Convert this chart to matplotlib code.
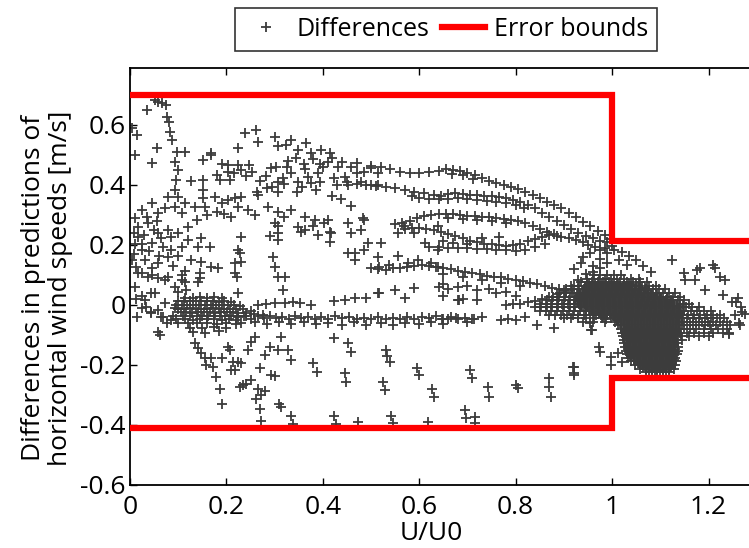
import numpy as np
import matplotlib
matplotlib.use("Agg")
import matplotlib.pyplot as plt

plt.rcParams["font.family"] = ["Open Sans", "DejaVu Sans"]
plt.rcParams["axes.unicode_minus"] = False

# error bounds
bound_x = [0, 1, 1, 1.284]
upper_bound = [0.70, 0.70, 0.212, 0.212]
lower_bound = [-0.41, -0.41, -0.242, -0.242]

# differences
left_streak = [
    (0.036, 0.650), (0.059, 0.678), (0.074, 0.667), (0.066, 0.672), (0.077, 0.628),
    (0.080, 0.610), (0.084, 0.578), (0.087, 0.550), (0.098, 0.510), (0.094, 0.478),
    (0.100, 0.450), (0.096, 0.417), (0.094, 0.383), (0.100, 0.360), (0.015, 0.567),
    (0.011, 0.500), (0.056, 0.523), (0.046, 0.473), (0.115, 0.510), (0.167, 0.500),
    (0.005, 0.590), (0.052, 0.682),
]

upper_left = [
    (0.238, 0.572), (0.262, 0.583), (0.300, 0.561), (0.266, 0.544), (0.224, 0.522),
    (0.335, 0.550), (0.366, 0.539), (0.307, 0.530), (0.324, 0.533), (0.349, 0.517),
    (0.376, 0.508), (0.397, 0.517), (0.414, 0.506), (0.169, 0.506), (0.152, 0.483),
    (0.127, 0.413), (0.152, 0.417), (0.152, 0.383), (0.180, 0.433), (0.204, 0.467),
    (0.204, 0.445), (0.208, 0.417), (0.186, 0.417), (0.224, 0.467), (0.246, 0.467),
    (0.231, 0.450), (0.253, 0.444), (0.263, 0.378), (0.266, 0.368), (0.285, 0.389),
    (0.303, 0.461), (0.306, 0.411), (0.326, 0.461), (0.306, 0.378), (0.346, 0.378),
    (0.349, 0.411), (0.370, 0.428), (0.376, 0.406), (0.391, 0.439), (0.401, 0.461),
    (0.411, 0.478), (0.432, 0.461), (0.424, 0.422), (0.445, 0.428), (0.459, 0.461),
    (0.486, 0.444), (0.500, 0.456), (0.514, 0.439), (0.452, 0.400), (0.479, 0.411),
    (0.500, 0.400), (0.514, 0.400), (0.386, 0.385), (0.418, 0.363), (0.438, 0.352),
    (0.459, 0.330), (0.486, 0.285), (0.293, 0.458), (0.328, 0.480), (0.345, 0.490),
    (0.360, 0.470), (0.380, 0.488), (0.395, 0.470), (0.420, 0.490), (0.440, 0.478),
    (0.470, 0.475), (0.282, 0.430), (0.318, 0.425), (0.335, 0.440), (0.362, 0.452),
    (0.190, 0.470), (0.215, 0.440), (0.240, 0.430), (0.270, 0.415), (0.295, 0.395),
    (0.320, 0.405), (0.356, 0.395), (0.395, 0.410), (0.430, 0.400), (0.470, 0.440),
]

left_mid = [
    (0.079, 0.361), (0.045, 0.339), (0.024, 0.317), (0.059, 0.306), (0.072, 0.322),
    (0.093, 0.328), (0.114, 0.339), (0.107, 0.306), (0.134, 0.328), (0.152, 0.356),
    (0.155, 0.328), (0.176, 0.361), (0.190, 0.339), (0.180, 0.311), (0.203, 0.350),
    (0.217, 0.356), (0.231, 0.361), (0.210, 0.294), (0.195, 0.305), (0.224, 0.328),
    (0.245, 0.317), (0.259, 0.300), (0.286, 0.328), (0.306, 0.311), (0.320, 0.294),
    (0.334, 0.317), (0.300, 0.272), (0.349, 0.261), (0.362, 0.294), (0.383, 0.283),
    (0.403, 0.272), (0.417, 0.239), (0.362, 0.250), (0.390, 0.233), (0.017, 0.261),
    (0.038, 0.272), (0.059, 0.239), (0.079, 0.250), (0.017, 0.228), (0.045, 0.206),
    (0.069, 0.194), (0.086, 0.228), (0.100, 0.239), (0.024, 0.183), (0.013, 0.128),
    (0.031, 0.150), (0.059, 0.139), (0.079, 0.161), (0.107, 0.194), (0.121, 0.217),
    (0.141, 0.194), (0.148, 0.222), (0.165, 0.194), (0.127, 0.150), (0.148, 0.144),
    (0.169, 0.128), (0.183, 0.124), (0.231, 0.228), (0.224, 0.183), (0.231, 0.144),
    (0.217, 0.106), (0.306, 0.239), (0.306, 0.218), (0.296, 0.161), (0.300, 0.128),
    (0.306, 0.094), (0.410, 0.283), (0.414, 0.244), (0.414, 0.211), (0.355, 0.244),
    (0.380, 0.262), (0.452, 0.172), (0.466, 0.150), (0.486, 0.183), (0.514, 0.161),
    (0.017, 0.106), (0.038, 0.095), (0.058, 0.089), (0.079, 0.095), (0.107, 0.084),
    (0.141, 0.078), (0.093, 0.061), (0.100, 0.045), (0.117, 0.050), (0.010, 0.205),
    (0.005, 0.150), (0.030, 0.235), (0.120, 0.260), (0.138, 0.285), (0.160, 0.300),
    (0.317, 0.050), (0.321, 0.095), (0.224, 0.039), (0.221, 0.095), (0.228, 0.173),
    (0.217, 0.140), (0.290, 0.229), (0.307, 0.263), (0.452, 0.274), (0.459, 0.240),
    (0.480, 0.251), (0.483, 0.290), (0.494, 0.207), (0.466, 0.173), (0.521, 0.207),
    (0.517, 0.128), (0.538, 0.134), (0.556, 0.162), (0.556, 0.240), (0.569, 0.263),
    (0.590, 0.240), (0.611, 0.207), (0.576, 0.140), (0.597, 0.151), (0.625, 0.140),
    (0.639, 0.128), (0.639, 0.263), (0.639, 0.184),
    (0.010, 0.290), (0.035, 0.295), (0.055, 0.280), (0.008, 0.240), (0.050, 0.250),
    (0.065, 0.225), (0.025, 0.205), (0.040, 0.180), (0.060, 0.165), (0.085, 0.185),
    (0.100, 0.165), (0.008, 0.170), (0.045, 0.125), (0.090, 0.130), (0.115, 0.115),
]

arc_bands = [
    # top band
    (0.500, 0.462), (0.520, 0.460), (0.540, 0.452), (0.560, 0.445), (0.580, 0.440),
    (0.600, 0.440), (0.620, 0.442), (0.640, 0.446), (0.655, 0.452), (0.670, 0.450),
    (0.685, 0.448), (0.700, 0.440), (0.715, 0.432), (0.730, 0.422), (0.745, 0.414),
    (0.760, 0.408), (0.775, 0.400), (0.790, 0.394), (0.805, 0.386), (0.820, 0.378),
    (0.835, 0.366), (0.850, 0.356), (0.865, 0.345), (0.880, 0.335), (0.895, 0.322),
    (0.910, 0.308), (0.925, 0.292), (0.940, 0.278), (0.955, 0.262), (0.970, 0.248),
    (0.985, 0.232), (0.998, 0.220), (0.668, 0.438), (0.690, 0.432), (0.712, 0.420),
    # second band
    (0.450, 0.410), (0.470, 0.405), (0.490, 0.400), (0.510, 0.398), (0.530, 0.394),
    (0.550, 0.390), (0.570, 0.385), (0.590, 0.378), (0.610, 0.372), (0.630, 0.368),
    (0.645, 0.365), (0.660, 0.370), (0.675, 0.372), (0.690, 0.370), (0.705, 0.368),
    (0.720, 0.366), (0.735, 0.364), (0.750, 0.362), (0.765, 0.360), (0.780, 0.356),
    (0.795, 0.350), (0.810, 0.344), (0.825, 0.335), (0.840, 0.322), (0.855, 0.308),
    (0.870, 0.294), (0.885, 0.280), (0.900, 0.266), (0.915, 0.252), (0.930, 0.240),
    (0.945, 0.230), (0.960, 0.222), (0.975, 0.215), (0.990, 0.210),
    (0.585, 0.362), (0.600, 0.358), (0.620, 0.355), (0.640, 0.352), (0.660, 0.355),
    (0.680, 0.356), (0.700, 0.354), (0.720, 0.350), (0.740, 0.348), (0.760, 0.345),
    (0.780, 0.340), (0.800, 0.332), (0.818, 0.322),
    # third band
    (0.550, 0.270), (0.565, 0.275), (0.580, 0.280), (0.595, 0.290), (0.610, 0.296),
    (0.625, 0.300), (0.640, 0.303), (0.655, 0.305), (0.670, 0.304), (0.685, 0.300),
    (0.700, 0.298), (0.715, 0.296), (0.730, 0.295), (0.745, 0.293), (0.760, 0.290),
    (0.775, 0.288), (0.790, 0.285), (0.805, 0.280), (0.820, 0.272), (0.835, 0.262),
    (0.850, 0.252), (0.865, 0.244), (0.880, 0.236), (0.895, 0.228), (0.910, 0.222),
    (0.925, 0.216), (0.940, 0.210), (0.660, 0.290), (0.690, 0.286), (0.720, 0.284),
    (0.750, 0.280), (0.780, 0.275),
    # loop
    (0.570, 0.255), (0.585, 0.258), (0.600, 0.258), (0.615, 0.255), (0.630, 0.250),
    (0.645, 0.245), (0.660, 0.238), (0.675, 0.230), (0.690, 0.222), (0.705, 0.215),
    (0.720, 0.210), (0.735, 0.205), (0.750, 0.202), (0.765, 0.200), (0.780, 0.198),
    (0.795, 0.200), (0.810, 0.205), (0.825, 0.212), (0.840, 0.220), (0.855, 0.228),
    (0.870, 0.232), (0.885, 0.230), (0.620, 0.195), (0.640, 0.192), (0.660, 0.190),
    (0.680, 0.190), (0.700, 0.190), (0.720, 0.188), (0.740, 0.186), (0.760, 0.185),
    (0.780, 0.182), (0.800, 0.180), (0.820, 0.185), (0.840, 0.195), (0.860, 0.205),
    (0.650, 0.212), (0.670, 0.208), (0.700, 0.205), (0.730, 0.222), (0.765, 0.226),
    # lower arc into the blob
    (0.500, 0.125), (0.515, 0.120), (0.530, 0.118), (0.545, 0.122), (0.560, 0.125),
    (0.575, 0.128), (0.590, 0.130), (0.605, 0.132), (0.620, 0.130), (0.635, 0.128),
    (0.650, 0.125), (0.665, 0.120), (0.680, 0.115), (0.695, 0.110), (0.710, 0.106),
    (0.725, 0.102), (0.740, 0.098), (0.755, 0.095), (0.770, 0.092), (0.785, 0.088),
    (0.800, 0.084), (0.815, 0.080), (0.830, 0.075), (0.845, 0.070), (0.860, 0.064),
    (0.875, 0.058), (0.890, 0.052), (0.905, 0.046), (0.920, 0.040), (0.650, 0.105),
    (0.690, 0.095), (0.730, 0.085), (0.770, 0.075), (0.810, 0.062),
    # rising band
    (0.780, 0.000), (0.795, 0.002), (0.810, 0.005), (0.825, 0.010), (0.840, 0.015),
    (0.855, 0.020), (0.870, 0.028), (0.885, 0.038), (0.900, 0.050), (0.915, 0.065),
    (0.930, 0.085), (0.945, 0.105), (0.960, 0.130), (0.975, 0.155), (0.990, 0.172),
    (1.005, 0.182), (1.020, 0.178), (1.035, 0.165), (1.050, 0.150), (1.065, 0.130),
    (1.080, 0.110), (0.985, 0.190), (1.000, 0.198), (1.015, 0.150), (1.030, 0.135),
    (0.650, 0.070), (0.660, 0.055), (0.680, 0.060), (0.700, 0.065), (0.720, 0.050),
    (0.745, 0.052), (0.760, 0.040), (0.780, 0.045), (0.800, 0.030), (0.690, 0.020),
    (0.720, 0.017), (0.650, 0.030), (0.683, 0.017),
    (0.940, 0.160), (0.955, 0.175), (0.965, 0.195), (0.950, 0.200), (0.975, 0.185),
    (0.935, 0.140), (0.920, 0.120), (0.960, 0.110), (0.975, 0.125), (0.990, 0.140),
]

low_band = [
    (0.225, -0.040), (0.240, -0.035), (0.252, -0.045), (0.265, -0.038), (0.278, -0.042),
    (0.290, -0.036), (0.303, -0.044), (0.316, -0.040), (0.330, -0.046), (0.342, -0.038),
    (0.355, -0.044), (0.370, -0.040), (0.383, -0.047), (0.396, -0.041), (0.410, -0.045),
    (0.425, -0.038), (0.440, -0.044), (0.455, -0.040), (0.470, -0.046), (0.485, -0.042),
    (0.500, -0.047), (0.515, -0.040), (0.530, -0.045), (0.545, -0.042), (0.560, -0.048),
    (0.575, -0.041), (0.590, -0.046), (0.605, -0.040), (0.620, -0.044), (0.635, -0.038),
    (0.650, -0.045), (0.665, -0.040), (0.680, -0.046), (0.695, -0.042), (0.710, -0.047),
    (0.730, -0.040), (0.770, -0.050), (0.785, -0.046), (0.800, -0.050), (0.820, -0.040),
    (0.230, -0.060), (0.260, -0.058), (0.285, -0.062), (0.310, -0.057), (0.335, -0.063),
    (0.360, -0.058), (0.385, -0.064), (0.410, -0.060), (0.440, -0.065), (0.465, -0.058),
    (0.490, -0.066), (0.520, -0.060), (0.545, -0.068), (0.570, -0.060), (0.600, -0.064),
    (0.625, -0.058), (0.650, -0.062), (0.700, -0.058), (0.845, -0.067), (0.880, -0.078),
    (0.956, -0.084), (0.987, -0.045), (0.648, -0.045), (0.660, -0.048), (0.676, -0.044),
    (0.714, -0.046), (0.300, 0.006), (0.322, 0.006), (0.338, 0.010), (0.352, 0.006),
    (0.376, 0.000), (0.424, 0.013), (0.445, 0.017), (0.466, 0.022), (0.490, 0.025),
    (0.514, 0.040), (0.549, 0.050), (0.590, 0.056), (0.640, 0.061), (0.516, 0.039),
    (0.571, 0.022), (0.681, 0.017), (0.265, 0.000), (0.283, 0.002),
]

left_cluster = [
    (0.115, 0.025), (0.130, 0.025), (0.145, 0.027), (0.160, 0.024), (0.175, 0.026), (0.190, 0.022),
    (0.100, 0.012), (0.112, 0.012), (0.124, 0.014), (0.136, 0.012), (0.148, 0.013), (0.160, 0.012),
    (0.172, 0.014), (0.184, 0.011), (0.196, 0.012), (0.210, 0.010),
    (0.095, 0.000), (0.107, 0.000), (0.119, 0.001), (0.131, 0.000), (0.143, -0.001), (0.155, 0.000),
    (0.167, 0.001), (0.179, 0.000), (0.191, -0.001), (0.203, 0.000), (0.215, 0.000), (0.228, -0.002),
    (0.100, -0.012), (0.112, -0.012), (0.124, -0.011), (0.136, -0.012), (0.148, -0.013), (0.160, -0.012),
    (0.172, -0.011), (0.184, -0.012), (0.196, -0.013), (0.208, -0.012), (0.220, -0.012), (0.235, -0.014),
    (0.250, -0.020),
    (0.105, -0.024), (0.117, -0.024), (0.129, -0.025), (0.141, -0.024), (0.153, -0.023), (0.165, -0.024),
    (0.177, -0.025), (0.189, -0.024), (0.201, -0.024), (0.213, -0.023), (0.225, -0.025), (0.240, -0.026),
    (0.258, -0.030), (0.275, -0.032),
    (0.090, -0.036), (0.110, -0.036), (0.125, -0.037), (0.138, -0.036), (0.150, -0.035), (0.162, -0.036),
    (0.174, -0.037), (0.186, -0.036), (0.198, -0.036), (0.210, -0.035), (0.222, -0.037), (0.236, -0.036),
    (0.095, -0.048), (0.115, -0.048), (0.130, -0.049), (0.145, -0.048), (0.160, -0.047), (0.175, -0.048),
    (0.190, -0.049), (0.205, -0.048), (0.220, -0.050), (0.120, -0.060), (0.140, -0.061), (0.160, -0.060),
    (0.180, -0.062), (0.200, -0.060), (0.220, -0.063), (0.125, -0.075), (0.150, -0.076), (0.175, -0.074),
    (0.200, -0.078), (0.130, -0.090), (0.155, -0.092), (0.185, -0.088),
    (0.024, 0.106), (0.045, 0.100), (0.072, 0.083), (0.107, 0.100), (0.114, 0.078), (0.145, 0.106),
    (0.145, 0.090), (0.031, 0.017), (0.051, 0.039), (0.034, -0.006), (0.058, -0.017), (0.044, -0.028),
    (0.065, -0.039), (0.058, -0.089), (0.062, -0.100), (0.072, 0.006), (0.093, -0.011), (0.086, -0.050),
    (0.100, -0.061), (0.044, 0.040), (0.024, 0.030), (0.024, -0.010), (0.044, -0.022), (0.069, -0.039),
    (0.076, -0.061), (0.010, 0.060), (0.012, 0.020), (0.015, -0.040),
]

low_scatter = [
    (0.134, -0.128), (0.141, -0.144), (0.148, -0.161), (0.155, -0.178), (0.158, -0.200),
    (0.169, -0.178), (0.190, -0.178), (0.172, -0.206), (0.204, -0.139), (0.207, -0.150),
    (0.214, -0.189), (0.217, -0.217), (0.224, -0.189), (0.231, -0.192), (0.245, -0.150),
    (0.252, -0.122), (0.259, -0.106), (0.269, -0.211), (0.279, -0.167), (0.290, -0.139),
    (0.293, -0.233), (0.300, -0.236), (0.307, -0.150), (0.314, -0.106), (0.328, -0.150),
    (0.335, -0.183), (0.380, -0.194), (0.387, -0.222), (0.424, -0.111), (0.452, -0.128),
    (0.459, -0.156), (0.445, -0.228), (0.448, -0.256), (0.179, -0.240), (0.186, -0.280),
    (0.190, -0.330), (0.210, -0.218), (0.228, -0.274), (0.235, -0.268), (0.240, -0.262),
    (0.252, -0.251), (0.266, -0.280), (0.262, -0.313), (0.272, -0.300), (0.279, -0.285),
    (0.269, -0.346), (0.272, -0.385), (0.310, -0.330), (0.314, -0.340), (0.335, -0.369),
    (0.338, -0.397), (0.424, -0.369), (0.427, -0.397), (0.473, -0.391), (0.531, -0.150),
    (0.533, -0.170), (0.540, -0.189), (0.525, -0.257), (0.529, -0.283), (0.542, -0.369),
    (0.546, -0.394), (0.595, -0.211), (0.599, -0.233), (0.627, -0.281), (0.630, -0.306),
    (0.619, -0.389), (0.695, -0.350), (0.698, -0.378), (0.716, -0.372), (0.716, -0.394),
    (0.706, -0.217), (0.709, -0.244), (0.743, -0.272), (0.745, -0.306), (0.801, -0.267),
    (0.805, -0.275), (0.870, -0.244), (0.870, -0.272), (0.874, -0.306), (0.918, -0.206),
    (0.921, -0.233), (0.973, -0.140), (0.975, -0.156), (0.997, -0.173), (0.998, -0.200),
    (1.013, -0.161), (1.020, -0.190), (0.920, -0.205), (0.920, -0.228), (0.954, -0.061),
    (0.958, -0.083), (0.981, -0.039), (1.010, -0.050),
]

# dense blob right of U/U0 = 1: (y, x positions)
blob_rows = [
    (0.100, [0.962, 0.975, 0.990, 1.004, 1.018]),
    (0.088, [0.948, 0.960, 0.972, 0.985, 0.997, 1.010, 1.024, 1.040, 1.055]),
    (0.076, [0.935, 0.947, 0.958, 0.970, 0.981, 0.993, 1.005, 1.017, 1.030, 1.044, 1.058, 1.072]),
    (0.064, [0.920, 0.932, 0.944, 0.955, 0.967, 0.979, 0.990, 1.002, 1.014, 1.026, 1.038, 1.050,
             1.063, 1.077, 1.092]),
    (0.052, [0.905, 0.917, 0.930, 0.941, 0.953, 0.965, 0.976, 0.988, 1.000, 1.011, 1.023, 1.035,
             1.047, 1.059, 1.071, 1.084, 1.098, 1.110]),
    (0.040, [0.892, 0.904, 0.916, 0.927, 0.939, 0.950, 0.962, 0.974, 0.985, 0.997, 1.009, 1.021,
             1.032, 1.044, 1.056, 1.068, 1.080, 1.092, 1.105, 1.118, 1.130]),
    (0.028, [0.878, 0.890, 0.902, 0.913, 0.925, 0.937, 0.948, 0.960, 0.972, 0.983, 0.995, 1.007,
             1.018, 1.030, 1.042, 1.054, 1.066, 1.077, 1.089, 1.101, 1.113, 1.126, 1.140]),
    (0.016, [0.864, 0.876, 0.888, 0.900, 0.911, 0.923, 0.935, 0.946, 0.958, 0.970, 0.981, 0.993,
             1.005, 1.016, 1.028, 1.040, 1.052, 1.063, 1.075, 1.087, 1.099, 1.111, 1.123, 1.136, 1.150]),
    (0.004, [0.850, 0.862, 0.874, 0.886, 0.897, 0.909, 0.921, 0.932, 0.944, 0.956, 0.967, 0.979,
             0.991, 1.002, 1.014, 1.026, 1.038, 1.049, 1.061, 1.073, 1.085, 1.097, 1.109, 1.121,
             1.134, 1.147, 1.160]),
    (-0.008, [0.840, 0.852, 0.864, 0.876, 0.888, 0.900, 0.912, 0.924, 0.936, 0.948, 0.960, 0.972,
              0.984, 0.996, 1.008, 1.020, 1.032, 1.044, 1.056, 1.068, 1.080, 1.092, 1.104, 1.116,
              1.128, 1.140, 1.153, 1.166, 1.180]),
    (-0.020, [0.850, 0.862, 0.874, 0.886, 0.898, 0.910, 0.922, 0.934, 0.946, 0.958, 0.970, 0.982,
              0.994, 1.006, 1.018, 1.030, 1.042, 1.054, 1.066, 1.078, 1.090, 1.102, 1.114, 1.126,
              1.138, 1.150, 1.163, 1.176, 1.190, 1.205]),
    (-0.032, [0.870, 0.882, 0.894, 0.906, 0.918, 0.930, 0.942, 0.954, 0.966, 0.978, 0.990, 1.002,
              1.014, 1.026, 1.038, 1.050, 1.062, 1.074, 1.086, 1.098, 1.110, 1.122, 1.134, 1.146,
              1.158, 1.170, 1.183, 1.196, 1.210, 1.224]),
    (-0.044, [0.900, 0.914, 0.930, 0.946, 0.962, 0.980, 0.998, 1.012, 1.024, 1.036, 1.048, 1.060,
              1.072, 1.084, 1.096, 1.108, 1.120, 1.132, 1.144, 1.156, 1.168, 1.180, 1.192, 1.205,
              1.218, 1.232]),
    (-0.056, [0.940, 0.960, 0.985, 1.006, 1.018, 1.030, 1.042, 1.054, 1.066, 1.078, 1.090, 1.102,
              1.114, 1.126, 1.138, 1.150, 1.162, 1.174, 1.186, 1.198, 1.210, 1.223, 1.238]),
    (-0.068, [1.012, 1.024, 1.036, 1.048, 1.060, 1.072, 1.084, 1.096, 1.108, 1.120, 1.132, 1.144,
              1.156, 1.168, 1.180, 1.192, 1.204, 1.216, 1.230, 1.245]),
    (-0.080, [1.018, 1.030, 1.042, 1.054, 1.066, 1.078, 1.090, 1.102, 1.114, 1.126, 1.138, 1.150,
              1.162, 1.175, 1.190, 1.205, 1.220, 1.238]),
    (-0.092, [1.020, 1.032, 1.044, 1.056, 1.068, 1.080, 1.092, 1.104, 1.116, 1.128, 1.140, 1.155,
              1.170, 1.190, 1.210, 1.230]),
    (-0.104, [1.022, 1.034, 1.046, 1.058, 1.070, 1.082, 1.094, 1.106, 1.118, 1.130, 1.142, 1.160,
              1.180, 1.200]),
    (-0.116, [1.024, 1.036, 1.048, 1.060, 1.072, 1.084, 1.096, 1.108, 1.120, 1.132, 1.145]),
    (-0.128, [1.025, 1.037, 1.049, 1.061, 1.073, 1.085, 1.097, 1.109, 1.121, 1.135]),
    (-0.140, [1.026, 1.038, 1.050, 1.062, 1.074, 1.086, 1.098, 1.110, 1.122, 1.136]),
    (-0.152, [1.028, 1.040, 1.052, 1.064, 1.076, 1.088, 1.100, 1.112, 1.124, 1.136]),
    (-0.164, [1.030, 1.042, 1.054, 1.066, 1.078, 1.090, 1.102, 1.114, 1.126, 1.135]),
    (-0.176, [1.034, 1.046, 1.058, 1.070, 1.082, 1.094, 1.106, 1.118, 1.130]),
    (-0.188, [1.040, 1.052, 1.064, 1.076, 1.088, 1.100, 1.112, 1.124, 1.133]),
    (-0.200, [1.048, 1.060, 1.072, 1.084, 1.096, 1.108, 1.120, 1.130]),
    (-0.212, [1.058, 1.070, 1.082, 1.094, 1.106, 1.118, 1.128]),
    (-0.224, [1.070, 1.082, 1.094, 1.106, 1.118]),
]

# in-between rows where the blob reads as solid
blob_core_rows = [
    (0.070, [0.952, 0.964, 0.976, 0.988, 1.000, 1.012, 1.024, 1.036, 1.050]),
    (0.058, [0.946, 0.958, 0.970, 0.982, 0.994, 1.006, 1.018, 1.030, 1.042, 1.055, 1.068]),
    (0.046, [0.940, 0.952, 0.964, 0.976, 0.988, 1.000, 1.012, 1.024, 1.036, 1.048, 1.060, 1.074]),
    (0.034, [0.934, 0.946, 0.958, 0.970, 0.982, 0.994, 1.006, 1.018, 1.030, 1.042, 1.054, 1.066,
             1.080, 1.094]),
    (0.022, [0.930, 0.942, 0.954, 0.966, 0.978, 0.990, 1.002, 1.014, 1.026, 1.038, 1.050, 1.062,
             1.074, 1.086, 1.100, 1.114]),
    (0.010, [0.930, 0.942, 0.954, 0.966, 0.978, 0.990, 1.002, 1.014, 1.026, 1.038, 1.050, 1.062,
             1.074, 1.086, 1.098, 1.110, 1.124]),
    (-0.002, [0.936, 0.948, 0.960, 0.972, 0.984, 0.996, 1.008, 1.020, 1.032, 1.044, 1.056, 1.068,
              1.080, 1.092, 1.104, 1.116, 1.128, 1.140]),
    (-0.014, [0.946, 0.958, 0.970, 0.982, 0.994, 1.006, 1.018, 1.030, 1.042, 1.054, 1.066, 1.078,
              1.090, 1.102, 1.114, 1.126, 1.138]),
    (-0.026, [0.960, 0.972, 0.984, 0.996, 1.008, 1.020, 1.032, 1.044, 1.056, 1.068, 1.080, 1.092,
              1.104, 1.116, 1.128, 1.140]),
    (-0.038, [1.004, 1.016, 1.028, 1.040, 1.052, 1.064, 1.076, 1.088, 1.100, 1.112, 1.124, 1.138]),
    (-0.050, [1.012, 1.024, 1.036, 1.048, 1.060, 1.072, 1.084, 1.096, 1.108, 1.120, 1.134]),
    (-0.062, [1.018, 1.030, 1.042, 1.054, 1.066, 1.078, 1.090, 1.102, 1.114, 1.126, 1.138]),
    (-0.074, [1.024, 1.036, 1.048, 1.060, 1.072, 1.084, 1.096, 1.108, 1.120, 1.132]),
    (-0.086, [1.026, 1.038, 1.050, 1.062, 1.074, 1.086, 1.098, 1.110, 1.122, 1.134]),
    (-0.098, [1.028, 1.040, 1.052, 1.064, 1.076, 1.088, 1.100, 1.112, 1.124, 1.136]),
    (-0.110, [1.030, 1.042, 1.054, 1.066, 1.078, 1.090, 1.102, 1.114, 1.126]),
    (-0.122, [1.031, 1.043, 1.055, 1.067, 1.079, 1.091, 1.103, 1.115, 1.128]),
    (-0.134, [1.032, 1.044, 1.056, 1.068, 1.080, 1.092, 1.104, 1.116, 1.129]),
    (-0.146, [1.034, 1.046, 1.058, 1.070, 1.082, 1.094, 1.106, 1.118, 1.130]),
    (-0.158, [1.036, 1.048, 1.060, 1.072, 1.084, 1.096, 1.108, 1.120, 1.131]),
    (-0.170, [1.040, 1.052, 1.064, 1.076, 1.088, 1.100, 1.112, 1.124]),
    (-0.182, [1.046, 1.058, 1.070, 1.082, 1.094, 1.106, 1.118, 1.128]),
    (-0.194, [1.054, 1.066, 1.078, 1.090, 1.102, 1.114, 1.125]),
    (-0.206, [1.064, 1.076, 1.088, 1.100, 1.112, 1.122]),
    (-0.218, [1.076, 1.088, 1.100, 1.112]),
]

right_sparse = [
    (1.124, 0.150), (1.149, 0.106), (1.152, 0.083), (1.176, 0.117), (1.172, 0.083),
    (1.183, 0.122), (1.210, 0.133), (1.214, 0.125), (1.224, 0.094), (1.235, 0.083),
    (1.193, 0.050), (1.231, 0.033), (1.262, 0.022), (1.248, 0.011), (1.255, -0.033),
    (1.266, -0.067), (1.242, -0.094), (1.256, 0.011), (1.270, -0.022), (1.263, -0.060),
    (1.243, -0.095), (1.275, -0.030), (1.268, -0.005),
]

pts = np.array(left_streak + upper_left + left_mid + arc_bands + low_band
               + left_cluster + low_scatter + right_sparse)
blob = np.array([(x, y) for y, xs in blob_rows + blob_core_rows for x in xs])
diff_x = np.concatenate([pts[:, 0], blob[:, 0]])
diff_y = np.concatenate([pts[:, 1], blob[:, 1]])

fig = plt.figure(figsize=(7.49, 5.48), dpi=100)
ax = fig.add_axes([130 / 749, 63 / 548, 619 / 749, 417 / 548])

ax.plot(diff_x, diff_y, "+", color="#3c3c3c", ms=7, mew=1.3, ls="none",
        label="Differences", zorder=2)
ax.plot(bound_x, upper_bound, color="#ff0000", lw=4.5, label="Error bounds",
        zorder=3, solid_joinstyle="miter")
ax.plot(bound_x, lower_bound, color="#ff0000", lw=4.5, zorder=3,
        solid_joinstyle="miter")

ax.set_xlim(0, 1.284)
ax.set_ylim(-0.6, 0.79)
ax.set_xticks([0, 0.2, 0.4, 0.6, 0.8, 1, 1.2])
ax.set_xticklabels(["0", "0.2", "0.4", "0.6", "0.8", "1", "1.2"])
ax.set_yticks([-0.6, -0.4, -0.2, 0, 0.2, 0.4, 0.6])
ax.set_yticklabels(["-0.6", "-0.4", "-0.2", "0", "0.2", "0.4", "0.6"])
ax.tick_params(direction="in", length=5, width=1, labelsize=19, top=True,
               colors="black")
ax.tick_params(axis="x", pad=7)
ax.tick_params(axis="y", pad=3)
ax.spines["right"].set_visible(False)
for s in ("left", "bottom", "top"):
    ax.spines[s].set_linewidth(1.3)

ax.set_xlabel("U/U0", fontsize=19)
ax.set_ylabel("Differences in predictions of\nhorizontal wind speeds [m/s]",
              fontsize=19, linespacing=1.1)
ax.xaxis.set_label_coords((431 - 130) / 619, -0.086)
ax.yaxis.set_label_coords(-0.092, 0.472)

leg = fig.legend(loc="upper center", bbox_to_anchor=(446 / 749, 1 - 8 / 548),
                 ncol=2, fontsize=18, frameon=True, fancybox=False,
                 edgecolor="black", handlelength=1.75, columnspacing=0.5,
                 handletextpad=0.35, borderpad=0.35, borderaxespad=0)
leg.get_frame().set_linewidth(1.2)

fig.savefig("out.png", dpi=100)
